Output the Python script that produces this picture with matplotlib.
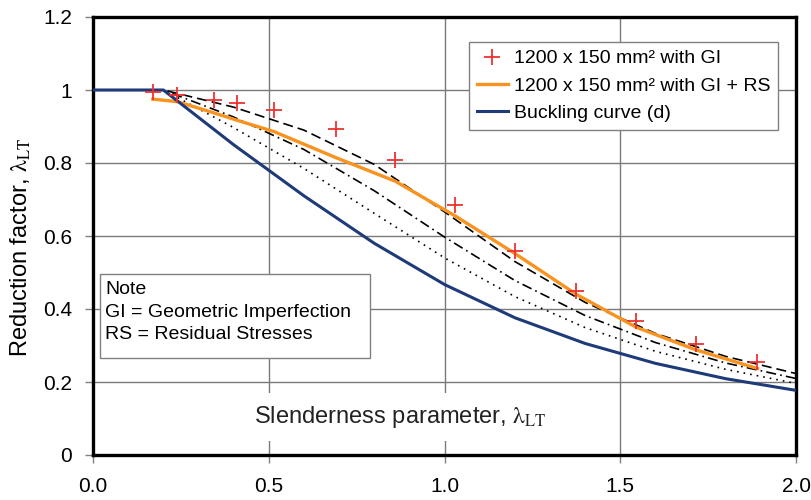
import matplotlib
matplotlib.use("Agg")
import matplotlib.pyplot as plt
from matplotlib.ticker import FuncFormatter
from matplotlib.patches import Rectangle

plt.rcParams['font.family'] = ['Liberation Sans', 'DejaVu Sans']
plt.rcParams['mathtext.fontset'] = 'stix'

# Test data: 1200 x 150 mm² with GI
gi_x = [0.17, 0.24, 0.345, 0.41, 0.515, 0.69, 0.86, 1.03, 1.20, 1.375, 1.545, 1.715, 1.89]
gi_y = [0.995, 0.985, 0.973, 0.964, 0.945, 0.893, 0.808, 0.685, 0.559, 0.449, 0.367, 0.304, 0.256]

# 1200 x 150 mm² with GI + RS
rs_x = [0.17, 0.24, 0.345, 0.41, 0.515, 0.69, 0.86, 1.03, 1.20, 1.375, 1.545, 1.715, 1.89]
rs_y = [0.975, 0.968, 0.937, 0.917, 0.886, 0.815, 0.750, 0.655, 0.552, 0.440, 0.350, 0.288, 0.237]

# Buckling curves
lam = [0.0, 0.2, 0.4, 0.6, 0.8, 1.0, 1.2, 1.4, 1.6, 1.8, 2.0]
curve_a = [1.0, 1.0, 0.953, 0.890, 0.796, 0.666, 0.530, 0.418, 0.333, 0.270, 0.223]
curve_b = [1.0, 1.0, 0.926, 0.837, 0.724, 0.597, 0.478, 0.382, 0.308, 0.252, 0.2095]
curve_c = [1.0, 1.0, 0.897, 0.785, 0.662, 0.540, 0.434, 0.349, 0.284, 0.2345, 0.196]
curve_d = [1.0, 1.0, 0.850, 0.710, 0.580, 0.467, 0.376, 0.3055, 0.251, 0.209, 0.177]

x_ticks = [0.0, 0.5, 1.0, 1.5, 2.0]
y_ticks = [0, 0.2, 0.4, 0.6, 0.8, 1.0, 1.2]

fig = plt.figure(figsize=(8.11, 5.0), dpi=100)
ax = fig.add_axes([0.1147, 0.09, 0.867, 0.876])

ax.plot(lam, curve_a, color='black', lw=1.2, ls=(0, (6, 3)), zorder=3)
ax.plot(lam, curve_b, color='black', lw=1.2, ls=(0, (6, 2.5, 1, 2.5)), zorder=3)
ax.plot(lam, curve_c, color='black', lw=1.2, ls=(0, (1, 3)), zorder=3)

ax.plot(rs_x, rs_y, color='#F7931E', lw=2.4, zorder=4, label='1200 x 150 mm² with GI + RS')
ax.plot(lam, curve_d, color='#1F3A78', lw=2.2, zorder=4, label='Buckling curve (d)')
ax.plot(gi_x, gi_y, ls='none', marker='+', ms=11, mew=1.3, color='#F03030', zorder=5,
        label='1200 x 150 mm² with GI')

ax.set_xlim(0, 2.0)
ax.set_ylim(0, 1.2)
ax.set_xticks(x_ticks)
ax.set_yticks(y_ticks)
ax.xaxis.set_major_formatter(FuncFormatter(lambda v, p: f"{v:.1f}"))
ax.yaxis.set_major_formatter(FuncFormatter(lambda v, p: f"{v:g}"))
ax.tick_params(axis='both', labelsize=15, length=6, width=1, color='#808080', direction='out')
ax.tick_params(axis='x', pad=10)
ax.tick_params(axis='y', pad=9)
ax.grid(True, color='#7a7a7a', lw=1.0, zorder=1)
ax.set_axisbelow(True)
for s in ax.spines.values():
    s.set_linewidth(2.4)
    s.set_color('black')

ax.set_ylabel(r'Reduction factor, $\mathrm{\lambda_{LT}}$', fontsize=17)
ax.yaxis.set_label_coords(-0.085, 0.475)
ax.text(0.873, 0.105, r'Slenderness parameter, $\mathrm{\lambda_{LT}}$', fontsize=17,
        ha='center', va='center', color='#222222', zorder=2,
        bbox=dict(facecolor='white', edgecolor='none', pad=8))

handles, labels = ax.get_legend_handles_labels()
order = [2, 0, 1]
leg = ax.legend([handles[i] for i in order], [labels[i] for i in order],
                loc='upper right', bbox_to_anchor=(0.974, 0.943), fontsize=14,
                frameon=True, fancybox=False, edgecolor='#808080', framealpha=1,
                handlelength=1.6, handletextpad=0.3, borderpad=0.4, labelspacing=0.5,
                borderaxespad=0)
leg.get_frame().set_linewidth(1.0)
leg.set_zorder(6)

note_box = Rectangle((0.010, 0.2215), 0.384, 0.1915, transform=ax.transAxes,
                     facecolor='white', edgecolor='#808080', lw=1.0, zorder=6)
ax.add_patch(note_box)
ax.text(0.017, 0.398, 'Note\nGI = Geometric Imperfection\nRS = Residual Stresses',
        fontsize=14, ha='left', va='top', linespacing=1.45, zorder=7,
        transform=ax.transAxes)

fig.savefig('out.png', dpi=100)
